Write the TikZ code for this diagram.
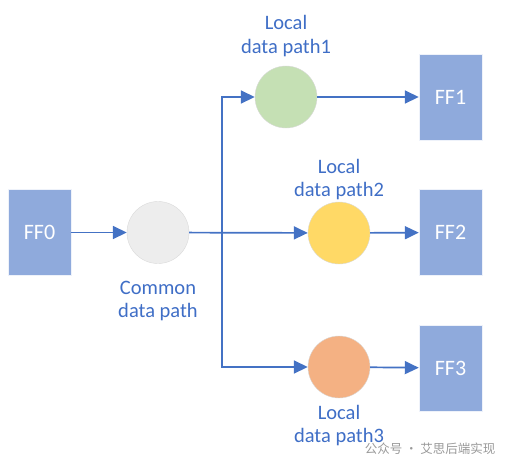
\documentclass[tikz,border=0pt]{standalone}
\usepackage{fontspec}
\setmainfont{Carlito}
\newfontfamily\cjk{Noto Sans CJK SC}
\usetikzlibrary{arrows.meta}
\definecolor{boxblue}{HTML}{8FAADC}
\definecolor{lineblue}{HTML}{4472C4}
\definecolor{textblue}{HTML}{3F6EC6}
\definecolor{cgray}{HTML}{EDEDED}
\definecolor{cgreen}{HTML}{C5E0B4}
\definecolor{cyellow}{HTML}{FFD966}
\definecolor{corange}{HTML}{F4B183}
\tikzset{
  ffbox/.style={rectangle,fill=boxblue,draw=white!85!boxblue,minimum width=63pt,minimum height=86pt,
    text=white,font=\fontsize{22}{24}\selectfont},
  pathnode/.style={circle,draw=black!15,minimum size=62pt,inner sep=0pt},
  pathlabel/.style={text=textblue,align=center,font=\fontsize{20.5}{23.5}\selectfont},
  wire/.style={lineblue,line width=1.7pt},
  arr/.style={wire,-{Triangle[length=14pt,width=13pt]}}
}
\begin{document}
\begin{tikzpicture}[x=1pt,y=-1pt]
  \useasboundingbox (0,0) rectangle (512,459);
  % flip-flops
  \node[ffbox] (ff0) at (39.5,232.5) {FF0};
  \node[ffbox] (ff1) at (450.5,97) {FF1};
  \node[ffbox] (ff2) at (450.5,232.5) {FF2};
  \node[ffbox] (ff3) at (450.5,368) {FF3};
  % data paths
  \node[pathnode,fill=cgray] (common) at (158,232.5) {};
  \node[pathnode,fill=cgreen] (local1) at (286,97) {};
  \node[pathnode,fill=cyellow] (local2) at (339,233) {};
  \node[pathnode,fill=corange] (local3) at (339,367) {};
  \coordinate (split) at (222,232.5);

  \node[pathlabel] (commonlbl) at (158,301) {Common\\data path};
  \node[pathlabel] (local1lbl) at (286,36) {Local\\data path1};
  \node[pathlabel] (local2lbl) at (339,179.5) {Local\\data path2};
  \node[pathlabel] (local3lbl) at (339,425.5) {Local\\data path3};

  \draw[arr] (ff0) -- (common);
  \draw[arr] (common) -- (local2);
  \draw[arr] (split) |- (local1);
  \draw[arr] (split) |- (local3);
  \foreach \i in {1,2,3} {
    \draw[arr] (local\i) -- (ff\i);
  }

  \node[text=black!40,anchor=east,font=\cjk\fontsize{12.5}{14}\selectfont] (mark) at (499,449) {公众号 · 艾思后端实现};
\end{tikzpicture}
\end{document}
